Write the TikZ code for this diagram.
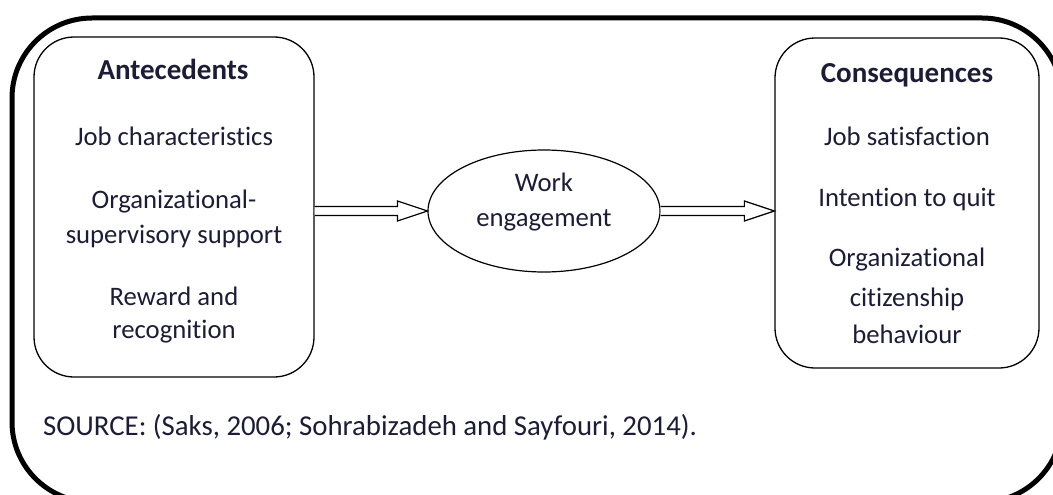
\documentclass[tikz,border=0pt]{standalone}
\usepackage{fontspec}
\setmainfont{Carlito}[Ligatures=NoCommon]
\usetikzlibrary{shapes.geometric,calc}
\definecolor{ink}{RGB}{28,28,55}
\begin{document}
\begin{tikzpicture}[x=1pt,y=-1pt,
  box/.style={draw=black, line width=1.3pt, rounded corners=40pt, inner sep=0pt},
  txt/.style={text=ink, font=\fontsize{26.7}{32}\selectfont, align=center, inner sep=0pt, text height=0.65em, text depth=0.05em},
  head/.style={txt, font=\fontsize{29}{34}\selectfont\bfseries},
  srcstyle/.style={txt, font=\fontsize{28.8}{34}\selectfont},
  arr/.style={draw=black, line width=1.2pt, fill=white, line join=miter}]
\useasboundingbox (0,0) rectangle (1053,495);
\begin{scope}
  \clip (0,0) rectangle (1053,495);
  \draw[line width=5pt, rounded corners=80pt] (12,18) rectangle (1062,502);
\end{scope}

\node[box, minimum width=280pt, minimum height=340pt] (L) at (174,207) {};
\node[box, minimum width=264pt, minimum height=330pt] (R) at (907,203) {};
\node[draw, ellipse, line width=1.2pt, minimum width=232pt, minimum height=122pt, inner sep=0pt] (E) at (544,211) {};

\node[head] (l0) at (173,77) {Antecedents};
\node[txt] (l1) at (174,142) {Job characteristics};
\node[txt] (l2) at (174,205) {Organizational-};
\node[txt] (l3) at (174,240) {supervisory support};
\node[txt] (l4) at (174,302) {Reward and};
\node[txt] (l5) at (174,335) {recognition};

\node[head] (r0) at (907,80) {Consequences};
\node[txt] (r1) at (907,142) {Job satisfaction};
\node[txt] (r2) at (907,203) {Intention to quit};
\node[txt] (r3) at (907,263) {Organizational};
\node[txt] (r4) at (907,303) {citizenship};
\node[txt] (r5) at (907,340) {behaviour};

\node[txt] (e1) at (544,188) {Work};
\node[txt] (e2) at (544,223) {engagement};

\node[srcstyle, anchor=west] (src) at (43,432) {SOURCE: (Saks, 2006; Sohrabizadeh and Sayfouri, 2014).};

\draw[arr] ($(L.east |- E.west)+(0,-4.5)$) -- ($(E.west)+(-30,-4.5)$) -- ($(E.west)+(-30,-10)$) -- (E.west) -- ($(E.west)+(-30,10)$) -- ($(E.west)+(-30,4.5)$) -- ($(L.east |- E.west)+(0,4.5)$);
\draw[arr] ($(E.east)+(0,-4.5)$) -- ($(R.west |- E.east)+(-30,-4.5)$) -- ($(R.west |- E.east)+(-30,-10)$) -- (R.west |- E.east) -- ($(R.west |- E.east)+(-30,10)$) -- ($(R.west |- E.east)+(-30,4.5)$) -- ($(E.east)+(0,4.5)$);
\end{tikzpicture}
\end{document}
